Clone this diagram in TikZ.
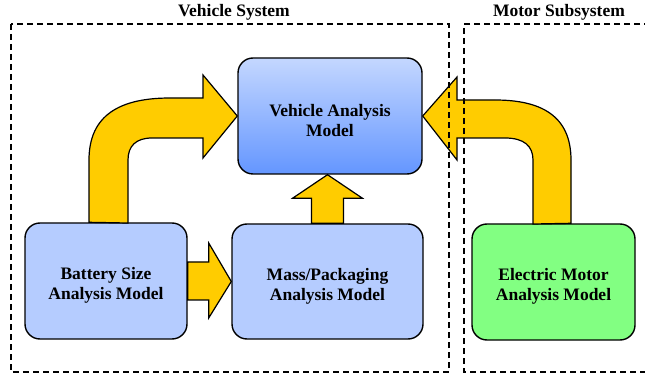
\documentclass[tikz,border=0pt]{standalone}
\usepackage{fontspec}
\setmainfont{Liberation Serif}
\definecolor{arrowyellow}{RGB}{255,204,0}
\definecolor{boxblue}{RGB}{181,204,255}
\definecolor{vehtop}{RGB}{196,215,255}
\definecolor{vehbot}{RGB}{100,150,255}
\definecolor{motorgreen}{RGB}{130,255,130}
\usetikzlibrary{positioning,calc}
\newcommand{\lowr}{\rule{0pt}{21pt}}

\begin{document}
\begin{tikzpicture}[x=1pt, y=-1pt,
    mdl/.style={draw, line width=1.4pt, rounded corners=15pt, align=center, inner sep=0pt,
        font=\fontsize{17.5}{19.8}\selectfont\bfseries},
    blk/.style={draw, line width=1.2pt, fill=arrowyellow, line join=miter},
    sys/.style={draw, line width=1.3pt, dash pattern=on 6pt off 4pt},
    ttl/.style={font=\fontsize{17.5}{19.5}\selectfont\bfseries},
]
    \useasboundingbox (0,0) rectangle (645,379);

    % models
    \node[mdl, minimum width=184pt, minimum height=116pt, top color=vehtop, bottom color=vehbot] (veh) at (330,116) {\lowr Vehicle Analysis\\Model};
    \node[mdl, minimum width=162pt, minimum height=116pt, fill=boxblue] (bat) at (106,281) {\lowr Battery Size\\Analysis Model};
    \node[mdl, minimum width=191pt, minimum height=115pt, fill=boxblue] (mass) at (327.5,281.5) {\lowr Mass/Packaging\\Analysis Model};
    \node[mdl, minimum width=163pt, minimum height=116pt, fill=motorgreen] (motor) at (553.5,282) {\lowr Electric Motor\\Analysis Model};

    % block arrows
    \draw[blk] (bat.east) ++(0,-19) -- ++(21,0) -- ++(0,-19) -- (mass.west) -- ($(bat.east)+(21,37)$) -- ++(0,-18) -- ++(-21,0) -- cycle;
    \draw[blk] (mass.north) ++(-16,0) -- ++(0,-25) -- ++(-19,0) -- (mass.north |- veh.south) -- ($(mass.north)+(35,-25)$) -- ++(-19,0) -- ++(0,25) -- cycle;
    \draw[blk] (bat.north) ++(-17,0) -- (89,160) .. controls (89,115) and (120,98) .. (170,98) -- (203,98) -- (203,75)
        -- (veh.west) -- (203,158) -- (203,138) -- (152,138) .. controls (136,138) and (128,146) .. (128,160) -- (128,223) -- cycle;
    \draw[blk] (motor.north) ++(17.5,0) -- (571,160) .. controls (571,115) and (540,100) .. (495,100) -- (457,100) -- (457,77)
        -- (veh.east) -- (457,160) -- (457,138) -- (505,138) .. controls (524,138) and (533,146) .. (533,160) -- (533,224) -- cycle;

    % system boundaries
    \draw[sys] (11,24) rectangle (449,372);
    \draw[sys] (700,24) -- (464,24) -- (464,372) -- (700,372);
    \node[ttl] (vsys) at (234,12) {Vehicle System};
    \node[ttl] (msys) at (559,12) {Motor Subsystem};
\end{tikzpicture}
\end{document}
